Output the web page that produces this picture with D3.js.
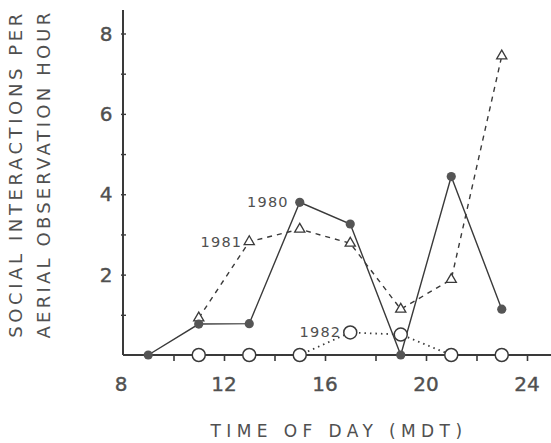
<!DOCTYPE html>
<html>
<head>
<meta charset="utf-8">
<script src="https://cdn.jsdelivr.net/npm/d3@7"></script>
<style>
  body { margin: 0; background: #fff; }
  svg { display: block; }
</style>
</head>
<body>
<div id="chart"></div>
<script>
// DATA
const hours = [9, 11, 13, 15, 17, 19, 21, 23];
const s1980 = [0, 0.77, 0.78, 3.8, 3.26, 0, 4.44, 1.14];
const s1981 = [null, 0.92, 2.82, 3.13, 2.78, 1.14, 1.88, 7.44];
const s1982 = [null, 0, 0, 0, 0.56, 0.51, 0, 0];
const xTicks = [8, 12, 16, 20, 24];
const yTicks = [2, 4, 6, 8];

const width = 551, height = 443;
const ink = '#3a3a3a', textInk = '#505050';

const svg = d3.select('#chart').append('svg')
    .attr('width', width)
    .attr('height', height);

const x = d3.scaleLinear().domain([8, 24]).range([123, 527]);
const y = d3.scaleLinear().domain([0, 8]).range([355, 33.5]);

// AXES
const xAxis = svg.append('g')
    .attr('transform', `translate(0,${y(0)})`)
    .call(d3.axisBottom(x).tickValues(d3.range(10, 25, 2)).tickSize(6).tickFormat(''));
xAxis.select('.domain').remove();
xAxis.selectAll('line').attr('stroke', ink).attr('stroke-width', 1.6);

svg.append('line')
    .attr('x1', x(8)).attr('x2', 551)
    .attr('y1', y(0)).attr('y2', y(0))
    .attr('stroke', ink).attr('stroke-width', 2);

svg.selectAll('.xlab')
    .data(xTicks)
    .join('text')
    .attr('x', d => x(d) + (d === 8 ? -2 : 0))
    .attr('y', 391)
    .attr('text-anchor', 'middle')
    .attr('font-family', 'DejaVu Sans, sans-serif')
    .attr('font-size', 20)
    .attr('fill', textInk)
    .attr('stroke', textInk).attr('stroke-width', 0.4)
    .text(d => d);

const yAxis = svg.append('g')
    .attr('transform', `translate(${x(8)},0)`)
    .call(d3.axisRight(y).tickValues(d3.range(1, 9)).tickSize(3).tickFormat(''));
yAxis.select('.domain').remove();
yAxis.selectAll('line').attr('stroke', ink).attr('stroke-width', 1.4).attr('x1', -2);

svg.append('line')
    .attr('x1', x(8)).attr('x2', x(8))
    .attr('y1', 10).attr('y2', y(0))
    .attr('stroke', ink).attr('stroke-width', 2);

svg.selectAll('.ylab')
    .data(yTicks)
    .join('text')
    .attr('x', 106)
    .attr('y', d => y(d) + 7)
    .attr('text-anchor', 'middle')
    .attr('font-family', 'DejaVu Sans, sans-serif')
    .attr('font-size', 20)
    .attr('fill', textInk)
    .attr('stroke', textInk).attr('stroke-width', 0.4)
    .text(d => d);

// AXIS TITLES
svg.append('text')
    .attr('x', 339).attr('y', 437)
    .attr('text-anchor', 'middle')
    .attr('font-family', 'DejaVu Sans, sans-serif')
    .attr('font-size', 17)
    .attr('letter-spacing', 5.4)
    .attr('fill', textInk)
    .text('TIME OF DAY (MDT)');

const yTitle = svg.append('g').attr('transform', 'translate(0,174) rotate(-90)');
yTitle.append('text')
    .attr('x', 0).attr('y', 22)
    .attr('text-anchor', 'middle')
    .attr('font-family', 'DejaVu Sans, sans-serif')
    .attr('font-size', 18)
    .attr('letter-spacing', 3.6)
    .attr('fill', textInk)
    .text('SOCIAL INTERACTIONS PER');
yTitle.append('text')
    .attr('x', 0).attr('y', 50)
    .attr('text-anchor', 'middle')
    .attr('font-family', 'DejaVu Sans, sans-serif')
    .attr('font-size', 18)
    .attr('letter-spacing', 3.2)
    .attr('fill', textInk)
    .text('AERIAL OBSERVATION HOUR');

// LINES
const pts = arr => hours.map((h, i) => ({h, v: arr[i]})).filter(d => d.v !== null);
const line = d3.line().x(d => x(d.h)).y(d => y(d.v));

svg.append('path').datum(pts(s1982))
    .attr('d', line).attr('fill', 'none')
    .attr('stroke', ink).attr('stroke-width', 1.8).attr('stroke-dasharray', '1.5,4');

svg.append('path').datum(pts(s1981))
    .attr('d', line).attr('fill', 'none')
    .attr('stroke', ink).attr('stroke-width', 1.4).attr('stroke-dasharray', '5,5');

svg.append('path').datum(pts(s1980))
    .attr('d', line).attr('fill', 'none')
    .attr('stroke', ink).attr('stroke-width', 1.4);

// MARKERS
svg.append('g').selectAll('circle')
    .data(pts(s1982))
    .join('circle')
    .attr('cx', d => x(d.h)).attr('cy', d => y(d.v))
    .attr('r', 6.5)
    .attr('fill', '#fff')
    .attr('stroke', ink).attr('stroke-width', 1.5);

const tri = d3.symbol().type(d3.symbolTriangle).size(45);
svg.append('g').selectAll('path')
    .data(pts(s1981))
    .join('path')
    .attr('transform', d => `translate(${x(d.h)},${y(d.v)})`)
    .attr('d', tri)
    .attr('fill', '#fff')
    .attr('stroke', ink).attr('stroke-width', 1.3);

svg.append('g').selectAll('circle')
    .data(pts(s1980))
    .join('circle')
    .attr('cx', d => x(d.h)).attr('cy', d => y(d.v))
    .attr('r', 4.6)
    .attr('fill', '#555');

// SERIES LABELS
const labels = [
    {t: '1980', h: 15, v: 3.8, dx: -11},
    {t: '1981', h: 13, v: 2.82, dx: -7},
    {t: '1982', h: 17, v: 0.56, dx: -9}
];
svg.selectAll('.slab')
    .data(labels)
    .join('text')
    .attr('x', d => x(d.h) + d.dx)
    .attr('y', d => y(d.v) + 5)
    .attr('text-anchor', 'end')
    .attr('font-family', 'DejaVu Sans, sans-serif')
    .attr('font-size', 14.5)
    .attr('letter-spacing', 1.2)
    .attr('fill', textInk)
    .text(d => d.t);
</script>
</body>
</html>
